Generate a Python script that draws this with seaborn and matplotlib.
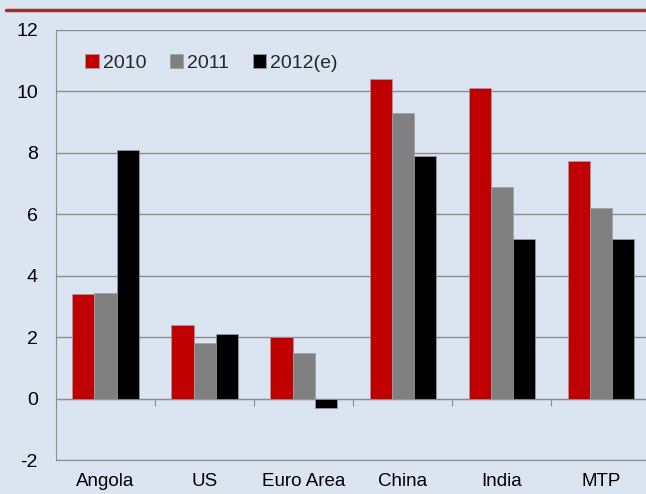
import pandas as pd
import matplotlib.pyplot as plt
import seaborn as sns

# Données
categories = ["Angola", "US", "Euro Area", "China", "India", "MTP"]
series = ["2010", "2011", "2012(e)"]
v2010 = [3.4, 2.4, 2.0, 10.4, 10.1, 7.75]
v2011 = [3.45, 1.8, 1.5, 9.3, 6.9, 6.2]
v2012 = [8.1, 2.1, -0.3, 7.9, 5.2, 5.2]
yticks = [-2, 0, 2, 4, 6, 8, 10, 12]

df = pd.DataFrame({
    "cat": categories * 3,
    "year": [s for s in series for _ in categories],
    "val": v2010 + v2011 + v2012,
})

bg = "#dbe5f1"
sns.set_style("white")
plt.rcParams["font.family"] = ["Liberation Sans", "DejaVu Sans"]

fig = plt.figure(figsize=(6.46, 4.94), dpi=100, facecolor=bg)
ax = fig.add_axes([0.0867, 0.0688, 0.92, 0.8705])
ax.set_facecolor(bg)

sns.barplot(data=df, x="cat", y="val", hue="year", order=categories, hue_order=series,
            palette={"2010": "#c00000", "2011": "#808080", "2012(e)": "#000000"},
            width=0.67, saturation=1, edgecolor="#9aa0a8", linewidth=0.5, ax=ax, zorder=3)

ax.set_ylim(-2, 12)
ax.set_xlim(-0.5, len(categories) - 0.5)
ax.set_yticks(yticks)
ax.set_yticklabels([str(t) for t in yticks])
ax.grid(axis="y", color="#8c8c8c", lw=1, zorder=0)
ax.set_xlabel("")
ax.set_ylabel("")
ax.tick_params(axis="both", length=0, labelsize=14, colors="black")
ax.tick_params(axis="x", labelsize=13.5, pad=9)
ax.tick_params(axis="y", pad=13)

for s in ["top", "right"]:
    ax.spines[s].set_visible(False)
for s in ["left", "bottom"]:
    ax.spines[s].set_color("#8c8c8c")

# axe à zéro avec graduations entre catégories
sec = ax.secondary_xaxis(2 / 14)
sec.set_xticks([i + 0.5 for i in range(len(categories) - 1)])
sec.set_xticklabels([])
sec.tick_params(direction="out", length=5, color="#8c8c8c")
sec.spines["bottom"].set_color("#8c8c8c")

leg = ax.legend(loc="upper left", bbox_to_anchor=(0.02, 0.985), ncol=3, frameon=False,
                fontsize=14, handlelength=0.7, handleheight=0.7, handletextpad=0.2,
                columnspacing=1.2)

# ligne rouge en haut
fig.add_artist(plt.Line2D([0.01, 1.0], [0.98, 0.98], color="#993333", lw=2.5,
                          transform=fig.transFigure))

plt.savefig("out.png", dpi=100, facecolor=bg)
